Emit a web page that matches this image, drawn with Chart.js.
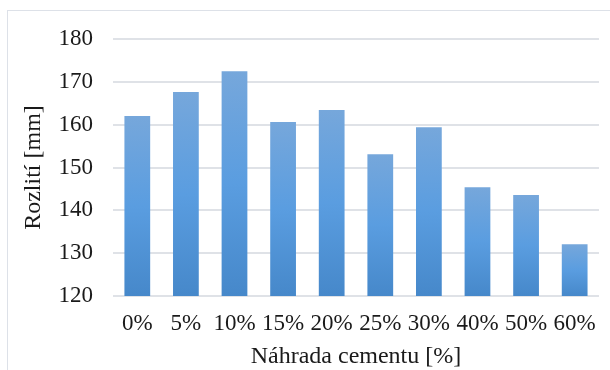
<!DOCTYPE html>
<html>
<head>
<meta charset="utf-8">
<script src="https://cdn.jsdelivr.net/npm/chart.js@4"></script>
<style>
  html, body { margin: 0; padding: 0; background: #fff; }
  #wrap { position: relative; width: 610px; height: 370px; }
</style>
</head>
<body>
<div id="wrap"><canvas id="c" width="610" height="370"></canvas></div>
<script>
// Cement replacement levels and measured spread
const categories = ['0%', '5%', '10%', '15%', '20%', '25%', '30%', '40%', '50%', '60%'];
const spreadValues = [162.0, 167.6, 172.5, 160.6, 163.4, 153.1, 159.4, 145.4, 143.6, 132.1];
const yTicks = [120, 130, 140, 150, 160, 170, 180];

const FONT = "'Liberation Serif', 'Times New Roman', serif";
const TEXT = '#1a1a1a';
const GRID = '#dfe2e7';

// Vertical gradient for every bar, from its top down to the axis base
function barGradient(ctx) {
  const chart = ctx.chart;
  const y = chart.scales && chart.scales.y;
  if (!y || ctx.dataIndex === undefined) return '#5b9bd5';
  const v = ctx.dataset.data[ctx.dataIndex];
  const top = y.getPixelForValue(v);
  const base = y.getPixelForValue(yTicks[0]);
  if (!isFinite(top) || !isFinite(base) || top === base) return '#5b9bd5';
  const g = chart.ctx.createLinearGradient(0, top, 0, base);
  g.addColorStop(0, '#76a7db');
  g.addColorStop(0.5, '#5a9de0');
  g.addColorStop(1, '#4688ca');
  return g;
}

// Thin frame around the chart area
const framePlugin = {
  id: 'frame',
  beforeDraw(chart) {
    const c = chart.ctx;
    c.save();
    c.fillStyle = '#ffffff';
    c.fillRect(0, 0, chart.width, chart.height);
    c.strokeStyle = '#dde1e8';
    c.lineWidth = 1;
    c.strokeRect(7.5, 10.5, 700, 500);
    c.restore();
  }
};

new Chart(document.getElementById('c'), {
  type: 'bar',
  data: {
    labels: categories,
    datasets: [{
      data: spreadValues,
      backgroundColor: barGradient,
      borderWidth: 0,
      barPercentage: 0.53,
      categoryPercentage: 1.0
    }]
  },
  options: {
    responsive: false,
    animation: false,
    devicePixelRatio: 1,
    layout: { padding: { top: 39, right: 5, left: 0, bottom: 0 } },
    plugins: {
      legend: { display: false },
      tooltip: { enabled: false }
    },
    scales: {
      x: {
        grid: { display: false, drawTicks: false },
        border: { display: false },
        ticks: {
          color: TEXT,
          font: { family: FONT, size: 23 },
          padding: 14,
          maxRotation: 0,
          autoSkip: false
        },
        title: {
          display: true,
          text: 'Náhrada cementu [%]',
          color: TEXT,
          font: { family: FONT, size: 24, lineHeight: 1.0 },
          padding: { top: 0, bottom: 1 }
        },
        afterFit(s) { s.height = 74; }
      },
      y: {
        min: yTicks[0],
        max: yTicks[yTicks.length - 1],
        afterBuildTicks(s) { s.ticks = yTicks.map(v => ({ value: v })); },
        grid: { color: GRID, lineWidth: 2, drawTicks: false },
        border: { display: false },
        ticks: {
          color: TEXT,
          font: { family: FONT, size: 23 },
          padding: 20
        },
        title: {
          display: true,
          text: 'Rozlití [mm]',
          color: TEXT,
          font: { family: FONT, size: 24, lineHeight: 1.0 },
          padding: { top: 22, bottom: 0 }
        },
        afterFit(s) { s.width = 113; }
      }
    }
  },
  plugins: [framePlugin]
});
</script>
</body>
</html>
